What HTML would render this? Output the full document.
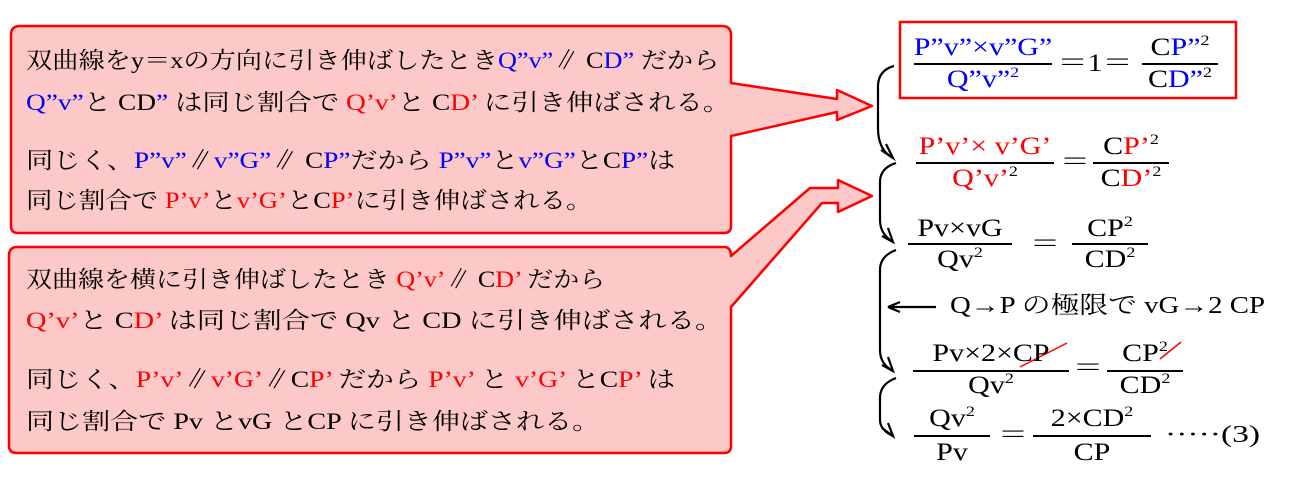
<!DOCTYPE html>
<html><head><meta charset="utf-8">
<style>
body{margin:0;width:1289px;height:482px;background:#fff;position:relative;overflow:hidden;font-family:"Liberation Serif","Noto Serif CJK JP",serif;}
.t{position:absolute;font-size:23px;white-space:nowrap;color:#000;line-height:1;transform-origin:0 50%;}
.b{color:#0000ff}.r{color:#ff0000}
.m{position:absolute;font-size:25px;white-space:nowrap;line-height:1;text-align:center;transform:scaleX(1.2);transform-origin:50% 50%}
.ln{position:absolute;height:2px;background:#000}
sup{font-size:15px;vertical-align:10px;line-height:0}
</style></head><body>
<svg width="1289" height="482" style="position:absolute;left:0;top:0">
<g fill="#fdc8c8" stroke="#f00" stroke-width="2.5" stroke-linejoin="round">
<path d="M20,26 H722 Q731,26 731,35 V83 L837,99 V90 L872,106 L837,120 V112 L731,136 V226 Q731,233 724,233 H18 Q11,233 11,226 V35 Q11,26 20,26 Z"/>
<path d="M17,247 H724 Q731,247 731,256 L810,188 H838 V180 L872,196 L838,212 V203 H822 L731,307 V446 Q731,453 724,453 H17 Q9,453 9,446 V256 Q9,247 17,247 Z"/>
</g>
<rect x="900" y="22" width="336" height="76" fill="none" stroke="#f00" stroke-width="2.5"/>
<g fill="none" stroke="#000" stroke-width="2.2">
<path d="M894,66 Q879,70 878,85 V128 Q878,150 893,158"/>
<path d="M881,150 L893,158 L886,144"/>
<path d="M896,163 Q880,168 880,182 V220 Q880,234 893,242"/>
<path d="M882,236 L893,242 L888,228"/>
<path d="M896,250 Q880,256 880,270 V350 Q880,364 893,371"/>
<path d="M882,365 L893,371 L888,357"/>
<path d="M896,378 Q880,384 880,398 V420 Q880,430 893,436"/>
<path d="M882,428 L893,436 L888,423"/>
<path d="M888,307 H936 M888,307 L900,302 M888,307 L900,312"/>
</g>
<g stroke="#f00" stroke-width="1.5">
<line x1="1020" y1="367" x2="1067" y2="343"/>
<line x1="1160" y1="359" x2="1181" y2="342"/>
</g>
</svg>

<div class="t" style="left:26px;top:49px;transform:scaleX(1.14)">双曲線をy＝xの方向に引き伸ばしたとき<span class="b">Q”v”</span>∥ C<span class="b">D”</span> だから</div>
<div class="t" style="left:26px;top:91px;transform:scaleX(1.19)"><span class="b">Q”v”</span>と CD<span class="b">”</span> は同じ割合で <span class="r">Q’v’</span>と C<span class="r">D’</span> に引き伸ばされる。</div>
<div class="t" style="left:26px;top:149px;transform:scaleX(1.18)">同じく、<span class="b">P”v”</span>∥<span class="b">v”G”</span>∥ C<span class="b">P”</span>だから <span class="b">P”v”</span>と<span class="b">v”G”</span>とC<span class="b">P”</span>は</div>
<div class="t" style="left:26px;top:189px;transform:scaleX(1.15)">同じ割合で <span class="r">P’v’</span>と<span class="r">v’G’</span>とC<span class="r">P’</span>に引き伸ばされる。</div>

<div class="t" style="left:26px;top:268px;transform:scaleX(1.13)">双曲線を横に引き伸ばしたとき <span class="r">Q’v’</span>∥ C<span class="r">D’</span> だから</div>
<div class="t" style="left:26px;top:309px;transform:scaleX(1.23)"><span class="r">Q’v’</span>と C<span class="r">D’</span> は同じ割合で Qv と CD に引き伸ばされる。</div>
<div class="t" style="left:26px;top:368px;transform:scaleX(1.2)">同じく、<span class="r">P’v’</span>∥<span class="r">v’G’</span>∥C<span class="r">P’</span> だから <span class="r">P’v’</span> と <span class="r">v’G’</span> とC<span class="r">P’</span> は</div>
<div class="t" style="left:26px;top:410px;transform:scaleX(1.22)">同じ割合で Pv とvG とCP に引き伸ばされる。</div>

<!-- eq1 -->
<div class="m b" style="left:912px;top:35px;width:142px">P”v”×v”G”</div>
<div class="ln" style="left:914px;top:63px;width:138px"></div>
<div class="m b" style="left:912px;top:67px;width:142px">Q”v”<sup>2</sup></div>
<div class="m" style="left:1060px;top:51px;width:70px">＝1＝</div>
<div class="m" style="left:1142px;top:35px;width:76px">C<span class="b">P”</span><sup>2</sup></div>
<div class="ln" style="left:1142px;top:63px;width:76px"></div>
<div class="m" style="left:1142px;top:67px;width:76px">C<span class="b">D”</span><sup>2</sup></div>
<!-- eq2 -->
<div class="m r" style="left:914px;top:134px;width:142px">P’v’× v’G’</div>
<div class="ln" style="left:916px;top:162px;width:138px"></div>
<div class="m r" style="left:914px;top:166px;width:142px">Q’v’<span style="color:#000"><sup>2</sup></span></div>
<div class="m" style="left:1060px;top:150px;width:30px">＝</div>
<div class="m" style="left:1093px;top:134px;width:76px">C<span class="r">P’</span><sup>2</sup></div>
<div class="ln" style="left:1093px;top:162px;width:76px"></div>
<div class="m" style="left:1093px;top:166px;width:76px">C<span class="r">D’</span><sup>2</sup></div>
<!-- eq3 -->
<div class="m" style="left:908px;top:216px;width:104px">Pv×vG</div>
<div class="ln" style="left:908px;top:243px;width:104px"></div>
<div class="m" style="left:908px;top:247px;width:104px">Qv<sup>2</sup></div>
<div class="m" style="left:1030px;top:232px;width:30px">＝</div>
<div class="m" style="left:1072px;top:216px;width:76px">CP<sup>2</sup></div>
<div class="ln" style="left:1072px;top:243px;width:76px"></div>
<div class="m" style="left:1072px;top:247px;width:76px">CD<sup>2</sup></div>
<!-- text -->
<div class="t" style="left:950px;top:294px;font-size:24px;transform:scaleX(1.2)">Q→P の極限で vG→2 CP</div>
<!-- eq4 -->
<div class="m" style="left:912px;top:341px;width:158px">Pv×2×CP</div>
<div class="ln" style="left:913px;top:370px;width:156px"></div>
<div class="m" style="left:912px;top:373px;width:158px">Qv<sup>2</sup></div>
<div class="m" style="left:1073px;top:356px;width:30px">＝</div>
<div class="m" style="left:1107px;top:341px;width:76px">CP<sup>2</sup></div>
<div class="ln" style="left:1107px;top:370px;width:76px"></div>
<div class="m" style="left:1107px;top:373px;width:76px">CD<sup>2</sup></div>
<!-- eq5 -->
<div class="m" style="left:914px;top:406px;width:76px">Qv<sup>2</sup></div>
<div class="ln" style="left:914px;top:435px;width:76px"></div>
<div class="m" style="left:914px;top:440px;width:76px">Pv</div>
<div class="m" style="left:998px;top:423px;width:30px">＝</div>
<div class="m" style="left:1032px;top:406px;width:120px">2×CD<sup>2</sup></div>
<div class="ln" style="left:1033px;top:435px;width:118px"></div>
<div class="m" style="left:1032px;top:440px;width:120px">CP</div>
<div class="t" style="left:1165px;top:423px;font-size:24px;transform:scaleX(1.4)">·····(3)</div>
</body></html>
